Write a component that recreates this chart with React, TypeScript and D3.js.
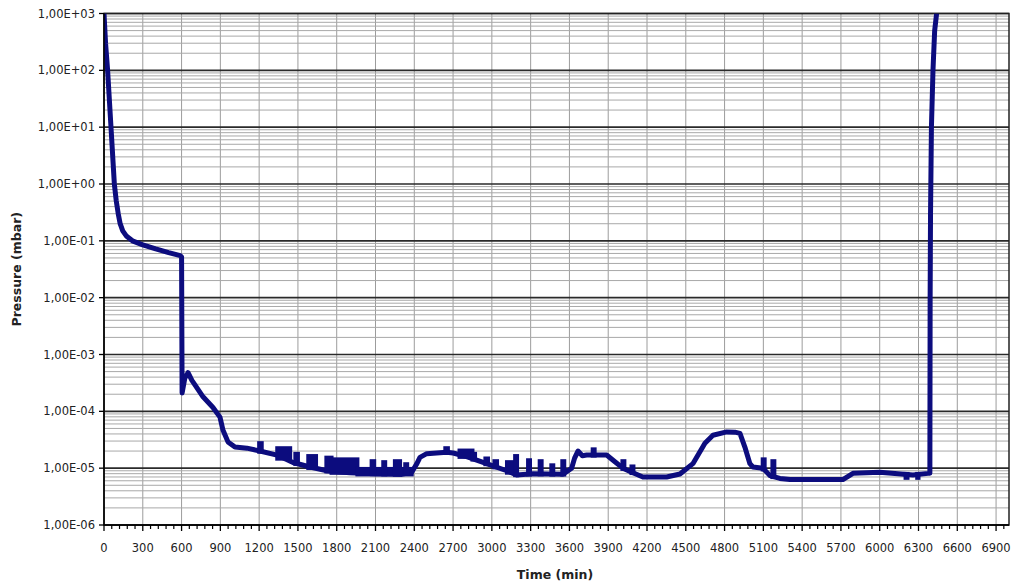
import React from 'react';
import * as d3 from 'd3';

// pressure log (minutes, mbar)
const timeMin = [
  0, 12, 28, 54, 80, 95, 110, 125, 145, 175, 220, 300, 400, 500, 590, 600,
  604, 625, 650, 680, 766, 843, 897, 920, 959, 1013, 1106, 1206, 1338, 1462, 1593, 1725,
  1900, 2100, 2300, 2380, 2420, 2444, 2496, 2650, 2700, 2805, 2960, 3115, 3192, 3318, 3550,
  3617, 3640, 3666, 3700, 3733, 3888, 3952, 4014, 4091, 4168, 4352, 4455, 4555, 4648, 4710,
  4816, 4880, 4919, 4957, 4996, 5019, 5097, 5151, 5228, 5306, 5715, 5793, 6001, 6257, 6373,
  6388, 6390, 6393, 6400, 6412, 6425, 6440,
];
const pressureMbar = [
  1000, 300, 100, 10, 1, 0.5, 0.3, 0.2, 0.15, 0.12, 0.1, 0.085, 0.072, 0.062, 0.055, 0.052,
  2.1e-4, 3.8e-4, 4.8e-4, 3.5e-4, 1.8e-4, 1.17e-4, 7.9e-5, 4.7e-5, 2.9e-5, 2.35e-5, 2.25e-5, 2.0e-5, 1.7e-5, 1.26e-5, 1.05e-5, 9e-6,
  8.3e-6, 8e-6, 7.8e-6, 8.5e-6, 1.2e-5, 1.55e-5, 1.8e-5, 1.9e-5, 1.85e-5, 1.6e-5, 1.2e-5, 9e-6, 7.6e-6, 8e-6, 7.8e-6,
  1e-5, 1.5e-5, 2e-5, 1.65e-5, 1.7e-5, 1.7e-5, 1.3e-5, 1e-5, 8.3e-6, 7e-6, 7e-6, 7.9e-6, 1.2e-5, 2.75e-5, 3.8e-5,
  4.35e-5, 4.3e-5, 4.1e-5, 2.35e-5, 1.2e-5, 1.05e-5, 1e-5, 7.4e-6, 6.6e-6, 6.3e-6, 6.3e-6, 8.1e-6, 8.5e-6, 7.6e-6, 8.1e-6,
  8.1e-6, 1e-2, 0.3, 10, 100, 500, 1000,
];

// short jumps of the reading (start, end, level reached)
const spikeStart = [1200, 1340, 1480, 1580, 1720, 1760, 1960, 2070, 2160, 2250, 2330, 2640, 2750, 2850, 2950, 3020, 3117, 3180, 3280, 3370, 3460, 3545, 3780, 4010, 4080, 5095, 5170, 6200, 6290];
const spikeEnd = [1220, 1440, 1500, 1640, 1760, 1960, 2380, 2090, 2175, 2290, 2345, 2660, 2850, 2870, 2970, 3040, 3165, 3195, 3295, 3385, 3475, 3560, 3795, 4025, 4095, 5110, 5185, 6215, 6300];
const spikeTop = [2.7e-5, 2.2e-5, 1.75e-5, 1.6e-5, 1.5e-5, 1.4e-5, 9.5e-6, 1.3e-5, 1.25e-5, 1.3e-5, 1.15e-5, 2.2e-5, 2.0e-5, 1.75e-5, 1.45e-5, 1.3e-5, 1.25e-5, 1.6e-5, 1.35e-5, 1.3e-5, 1.1e-5, 1.3e-5, 2.1e-5, 1.3e-5, 1.05e-5, 1.4e-5, 1.3e-5, 6.9e-6, 6.9e-6];

const xTickValues = [0, 300, 600, 900, 1200, 1500, 1800, 2100, 2400, 2700, 3000, 3300, 3600, 3900, 4200, 4500, 4800, 5100, 5400, 5700, 6000, 6300, 6600, 6900];
const yDecades = [1e-6, 1e-5, 1e-4, 1e-3, 1e-2, 1e-1, 1e0, 1e1, 1e2, 1e3];
const yTickLabels = ['1,00E-06', '1,00E-05', '1,00E-04', '1,00E-03', '1,00E-02', '1,00E-01', '1,00E+00', '1,00E+01', '1,00E+02', '1,00E+03'];

const W = 1016;
const H = 588;
const left = 104;
const right = 1009;
const top = 13.5;
const bottom = 525;
const lineColor = '#0c0c7e';
const font = '"DejaVu Sans", Verdana, sans-serif';

export default function App() {
  const x = d3.scaleLinear().domain([0, 7000]).range([left, right]);
  const y = d3.scaleLog().domain([1e-6, 1e3]).range([bottom, top]);

  const minorY: number[] = [];
  yDecades.slice(0, -1).forEach(d => {
    for (let k = 2; k <= 9; k++) minorY.push(d * k);
  });
  const minorX: number[] = [];
  for (let t = 60; t < 7000; t += 60) if (t % 300 !== 0) minorX.push(t);

  const pts = timeMin.map((t, i) => [t, pressureMbar[i]] as [number, number]);
  const line = d3.line<[number, number]>()
    .x(d => x(d[0]))
    .y(d => y(d[1]));

  // level of the main trace at time t (log interpolation between readings)
  const baseAt = (t: number) => {
    const i = Math.max(1, d3.bisectLeft(timeMin, t));
    const t0 = timeMin[i - 1], t1 = timeMin[i];
    const f = (t - t0) / (t1 - t0);
    return Math.pow(10, Math.log10(pressureMbar[i - 1]) * (1 - f) + Math.log10(pressureMbar[i]) * f);
  };

  return (
    <svg width={W} height={H} style={{ position: 'absolute', left: 0, top: 0, background: '#fff' }}>
      <defs>
        <clipPath id="plot">
          <rect x={left} y={top} width={right - left} height={bottom - top} />
        </clipPath>
      </defs>
      <rect x={0} y={0} width={W} height={H} fill="#fff" />

      {/* grid */}
      {xTickValues.slice(1).map(t => (
        <line key={'vx' + t} x1={x(t)} x2={x(t)} y1={top} y2={bottom} stroke="#9c9c9c" strokeWidth={1} />
      ))}
      {minorY.map(v => (
        <line key={'my' + v} x1={left} x2={right} y1={y(v)} y2={y(v)} stroke="#a8a8a8" strokeWidth={1} />
      ))}
      {yDecades.map(v => (
        <line key={'dy' + v} x1={left} x2={right} y1={y(v)} y2={y(v)} stroke="#2a2a2a" strokeWidth={1.6} />
      ))}
      <rect x={left} y={top} width={right - left} height={bottom - top} fill="none" stroke="#222" strokeWidth={1.5} />

      {/* data */}
      <g clipPath="url(#plot)">
        <path d={line(pts) || ''} fill="none" stroke={lineColor} strokeWidth={5} strokeLinejoin="round" />
        {spikeStart.map((t0, i) => {
          const b = y(baseAt((t0 + spikeEnd[i]) / 2));
          const h = y(spikeTop[i]);
          const y0 = Math.min(b, h) - 2.5;
          const y1 = Math.max(b, h) + 2.5;
          return (
            <rect key={'s' + i} x={x(t0) - 2} y={y0} width={x(spikeEnd[i]) - x(t0) + 4} height={y1 - y0} fill={lineColor} />
          );
        })}
      </g>

      {/* axes */}
      <line x1={left} x2={left} y1={top} y2={bottom} stroke="#000" strokeWidth={1.5} />
      <line x1={left} x2={right} y1={bottom} y2={bottom} stroke="#000" strokeWidth={1.5} />
      {yDecades.map((v, i) => (
        <g key={'yl' + v}>
          <line x1={left - 5} x2={left} y1={y(v)} y2={y(v)} stroke="#000" strokeWidth={1.3} />
          <text x={95} y={y(v)} dy="0.35em" textAnchor="end" fontFamily={font} fontSize={11.5} fill="#222">
            {yTickLabels[i]}
          </text>
        </g>
      ))}
      {minorX.map(t => (
        <line key={'mx' + t} x1={x(t)} x2={x(t)} y1={bottom} y2={bottom + 4} stroke="#000" strokeWidth={1.2} />
      ))}
      {xTickValues.map(t => (
        <g key={'xl' + t}>
          <line x1={x(t)} x2={x(t)} y1={bottom} y2={bottom + 6} stroke="#000" strokeWidth={1.3} />
          <text x={x(t)} y={552} textAnchor="middle" fontFamily={font} fontSize={11.5} fill="#222">
            {t}
          </text>
        </g>
      ))}

      <text x={555} y={579} textAnchor="middle" fontFamily={font} fontSize={12.5} fontWeight="bold" fill="#222">
        Time (min)
      </text>
      <text
        transform={`translate(21, ${(top + bottom) / 2}) rotate(-90)`}
        textAnchor="middle"
        fontFamily={font}
        fontSize={12.5}
        fontWeight="bold"
        fill="#222"
      >
        Pressure (mbar)
      </text>
    </svg>
  );
}
